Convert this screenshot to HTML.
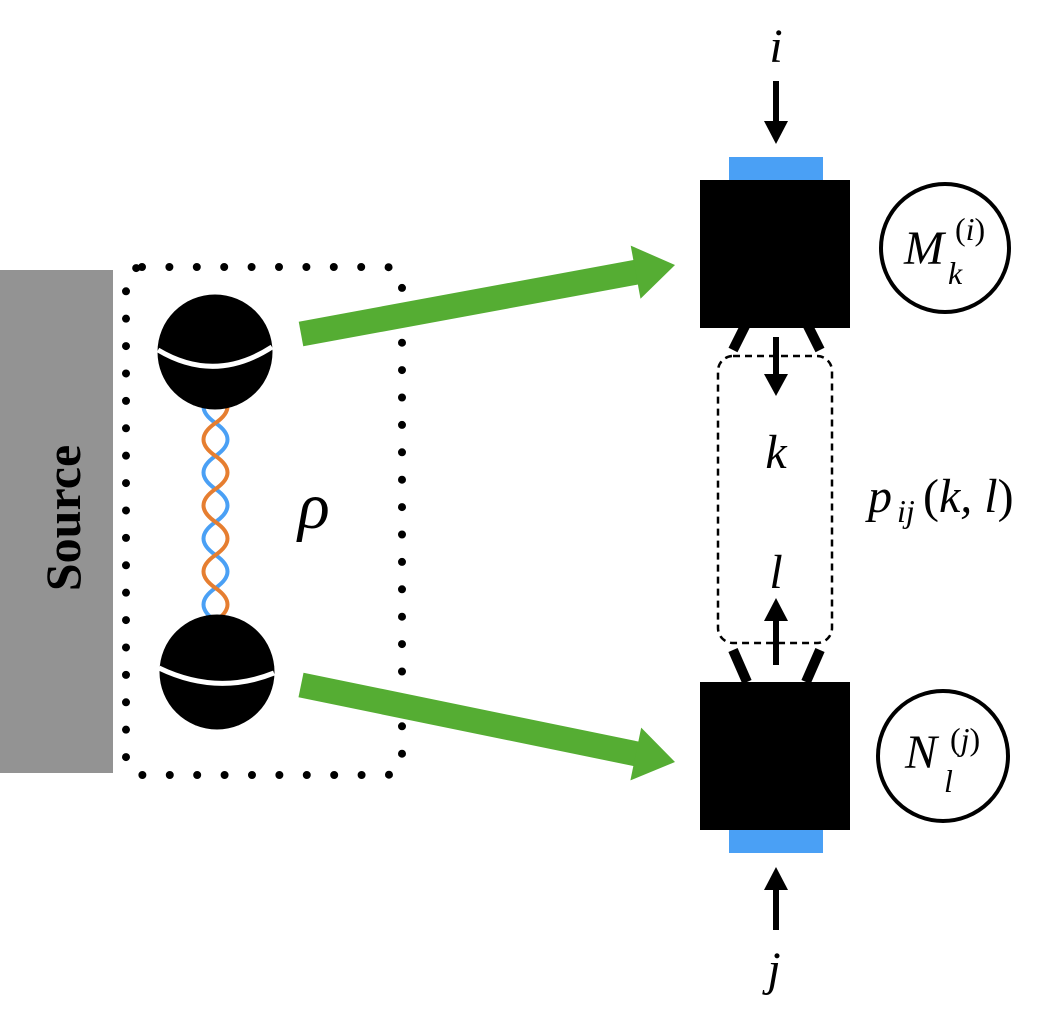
<!DOCTYPE html>
<html><head><meta charset="utf-8"><style>
html,body{margin:0;padding:0;background:#fff;}
svg{display:block;}
</style></head><body>
<svg width="1046" height="1020" viewBox="0 0 1046 1020" xmlns="http://www.w3.org/2000/svg" font-family="'Liberation Serif', 'DejaVu Serif', serif">
<rect x="0" y="270" width="113" height="503" fill="#939393"/>
<text x="80" y="518" transform="rotate(-90 80 518)" text-anchor="middle" font-family="'Liberation Serif', serif" font-weight="bold" font-size="50" fill="#000">Source</text>
<rect x="126" y="267" width="276" height="508" rx="16" fill="none" stroke="#000" stroke-width="8" stroke-linecap="round" stroke-dasharray="0 27.4"/>
<path d="M215.5 390 Q191.5 406.5 215.5 423 Q239.5 439.5 215.5 456 Q191.5 472.5 215.5 489 Q239.5 505.5 215.5 522 Q191.5 538.5 215.5 555 Q239.5 571.5 215.5 588 Q191.5 604.5 215.5 621" fill="none" stroke="#4aa0f5" stroke-width="4"/>
<path d="M215.5 390 Q239.5 406.5 215.5 423 Q191.5 439.5 215.5 456 Q239.5 472.5 215.5 489 Q191.5 505.5 215.5 522 Q239.5 538.5 215.5 555 Q191.5 571.5 215.5 588 Q239.5 604.5 215.5 621" fill="none" stroke="#e67e30" stroke-width="4"/>
<circle cx="215" cy="352" r="57.5" fill="#000"/>
<path d="M158 350 Q215 384 272 347" fill="none" stroke="#fff" stroke-width="5"/>
<circle cx="217" cy="672" r="57.5" fill="#000"/>
<path d="M159 668 Q217 696 274 673" fill="none" stroke="#fff" stroke-width="5"/>
<text x="298" y="528" font-family="'Liberation Serif', serif" font-style="italic" font-size="66">ρ</text>
<line x1="301" y1="334" x2="637" y2="272" stroke="#55ad33" stroke-width="25"/>
<polygon points="675,265 640.5,298.8 630.7,245.6" fill="#55ad33"/>
<line x1="301" y1="685" x2="637" y2="754" stroke="#55ad33" stroke-width="25"/>
<polygon points="675,762 630.4,780.4 641.2,727.6" fill="#55ad33"/>
<rect x="729" y="157" width="94" height="24" fill="#4aa0f5"/>
<rect x="700" y="180" width="150" height="148" fill="#000"/>
<rect x="729" y="829" width="94" height="24" fill="#4aa0f5"/>
<rect x="700" y="682" width="150" height="148" fill="#000"/>
<g stroke="#000" stroke-width="10">
<line x1="747" y1="322" x2="733" y2="350"/>
<line x1="806" y1="322" x2="820" y2="350"/>
<line x1="733" y1="650" x2="747" y2="682"/>
<line x1="820" y1="650" x2="806" y2="682"/>
</g>
<rect x="718" y="356" width="114" height="287" rx="15" fill="none" stroke="#000" stroke-width="2.5" stroke-dasharray="7 5"/>
<g stroke="#000" stroke-width="6">
<line x1="776" y1="81" x2="776" y2="124"/>
<line x1="776" y1="337" x2="776" y2="378"/>
<line x1="776" y1="618" x2="776" y2="665"/>
<line x1="776" y1="885" x2="776" y2="930"/>
</g>
<polygon points="764,121 788,121 776,144" fill="#000"/>
<polygon points="764,374 788,374 776,396" fill="#000"/>
<polygon points="764,621 788,621 776,598" fill="#000"/>
<polygon points="764,890 788,890 776,867" fill="#000"/>
<g font-family="'Liberation Serif', serif" font-style="italic" fill="#000">
<text x="776" y="62" text-anchor="middle" font-size="48">i</text>
<text x="776" y="468" text-anchor="middle" font-size="48">k</text>
<text x="776" y="588" text-anchor="middle" font-size="48">l</text>
<text x="774" y="985" text-anchor="middle" font-size="48">j</text>
<text x="868" y="512" font-size="48">p</text>
<text x="897" y="522" font-size="32">ij</text>
<text x="923" y="512" font-size="48"><tspan font-style="normal">(</tspan>k, l<tspan font-style="normal">)</tspan></text>
<text x="904" y="264" font-size="48">M</text>
<text x="955" y="240" font-size="32"><tspan font-style="normal">(</tspan>i<tspan font-style="normal">)</tspan></text>
<text x="948" y="284" font-size="32">k</text>
<text x="905" y="768" font-size="48">N</text>
<text x="950" y="750" font-size="32"><tspan font-style="normal">(</tspan>j<tspan font-style="normal">)</tspan></text>
<text x="944" y="792" font-size="32">l</text>
</g>
<circle cx="945" cy="248" r="64" fill="none" stroke="#000" stroke-width="4"/>
<circle cx="943" cy="756" r="65" fill="none" stroke="#000" stroke-width="4"/>
</svg>
</body></html>
